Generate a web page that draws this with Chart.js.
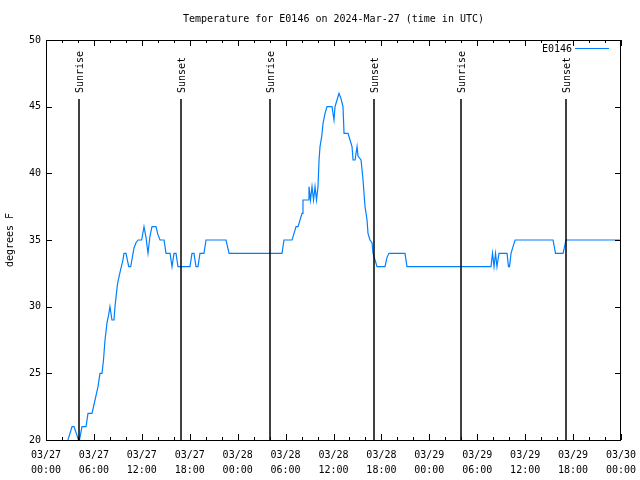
<!DOCTYPE html>
<html>
<head>
<meta charset="utf-8">
<script src="https://cdn.jsdelivr.net/npm/chart.js@4/dist/chart.umd.min.js"></script>
<style>
  html, body { margin: 0; padding: 0; background: #fff; }
  #wrap { width: 640px; height: 480px; }
</style>
</head>
<body>
<div id="wrap"><canvas id="temp"></canvas></div>
<script>
'use strict';

const TITLE = 'Temperature for E0146 on 2024-Mar-27 (time in UTC)'
const SERIES = 'E0146'
const LINE = '#0080ff'
const FONT = 'DejaVu Sans Mono'

// hours since 03/27 00:00 UTC
const hours = [
  2.75, 3.26, 3.51, 4.07, 4.19, 4.51, 5.01, 5.26, 5.76, 6.14,
  6.51, 6.76, 7.01, 7.20, 7.39, 7.64, 7.85, 8.01, 8.26, 8.51,
  8.64, 8.93, 9.05, 9.35, 9.60, 9.77, 10.02, 10.36, 10.61, 11.02,
  11.27, 11.52, 11.98, 12.27, 12.52, 12.77, 13.02, 13.27, 13.77, 14.02,
  14.28, 14.78, 15.03, 15.53, 15.78, 16.03, 16.28, 16.53, 18.03, 18.28,
  18.53, 18.78, 19.03, 19.28, 19.78, 20.04, 22.54, 22.92, 29.55, 29.80,
  30.81, 31.06, 31.31, 31.56, 31.81, 32.06, 32.18, 32.81, 32.93, 33.12,
  33.31, 33.50, 33.69, 33.87, 34.06, 34.19, 34.31, 34.52, 34.69, 34.94,
  35.19, 35.81, 36.06, 36.19, 36.44, 36.69, 36.94, 37.19, 37.32, 37.82,
  38.07, 38.32, 38.45, 38.70, 38.95, 39.07, 39.45, 39.70, 39.82, 39.95,
  40.20, 40.32, 40.57, 40.82, 40.95, 41.20, 41.45, 42.45, 42.70, 42.95,
  44.95, 45.20, 55.72, 55.91, 56.10, 56.29, 56.47, 56.72, 57.73, 57.91,
  58.04, 58.23, 58.48, 58.73, 63.49, 63.80, 64.74, 65.12, 72.00
]
const temps = [
  20, 21, 21, 20, 20, 21, 21, 22, 22, 23,
  24, 25, 25, 26, 27.5, 28.8, 29.4, 30, 29, 29,
  30, 31.6, 32, 32.8, 33.4, 34, 34, 33, 33, 34.4,
  34.8, 35, 35, 36, 35.2, 34, 35.3, 36, 36, 35.4,
  35, 35, 34, 34, 33, 34, 34, 33, 33, 34,
  34, 33, 33, 34, 34, 35, 35, 34, 34, 35,
  35, 35.5, 36, 36, 36.5, 37, 38, 38, 39, 38,
  39, 38, 39, 38, 39, 41, 42, 42.75, 43.75, 44.5,
  45, 45, 44, 45, 45.5, 46, 45.6, 45, 43, 43,
  42.5, 42, 41, 41, 42, 41.3, 41, 39.5, 38.5, 37.5,
  36.5, 35.5, 35, 34.8, 34, 33.5, 33, 33, 33.7, 34,
  34, 33, 33, 34, 33, 34, 33, 34, 34, 33,
  33, 34, 34.5, 35, 35, 34, 34, 35, 35
]

// sun events, hours since 03/27 00:00 UTC
const eventHours = [4.17, 16.9, 28.05, 41.07, 51.97, 65.12]
const eventNames = ['Sunrise', 'Sunset', 'Sunrise', 'Sunset', 'Sunrise', 'Sunset']

const days = ['03/27', '03/28', '03/29', '03/30']
const yTicks = [20, 25, 30, 35, 40, 45, 50]

function tickLabel(h){
    const d = days[Math.floor(h / 24)]
    const hh = String(h % 24).padStart(2, '0')
    return [d, hh + ':00']
}

// title, box, inward ticks, sun lines and key
const decor = {
    id: 'decor',
    afterDatasetsDraw(chart){
        const ctx = chart.ctx
        const a = chart.chartArea
        const xs = chart.scales.x
        const ys = chart.scales.y
        ctx.save()
        ctx.font = '10px ' + FONT
        ctx.fillStyle = '#000'
        ctx.textAlign = 'center'
        ctx.textBaseline = 'middle'
        ctx.fillText(TITLE, (a.left + a.right) / 2, 19)

        ctx.strokeStyle = '#000'
        ctx.lineWidth = 1
        ctx.beginPath()
        for (let h = 0; h <= 72; h += 2){
            const px = Math.round(xs.getPixelForValue(h)) + 0.5
            const len = h % 6 === 0 ? 6 : 3
            ctx.moveTo(px, a.bottom); ctx.lineTo(px, a.bottom - len)
            ctx.moveTo(px, a.top); ctx.lineTo(px, a.top + len)
        }
        for (const v of yTicks){
            const py = Math.round(ys.getPixelForValue(v)) + 0.5
            ctx.moveTo(a.left, py); ctx.lineTo(a.left + 6, py)
            ctx.moveTo(a.right, py); ctx.lineTo(a.right - 6, py)
        }
        ctx.stroke()
        ctx.strokeRect(Math.round(a.left) + 0.5, Math.round(a.top) + 0.5,
                       Math.round(a.right - a.left) - 1, Math.round(a.bottom - a.top))

        // sunrise / sunset markers, labels read upward from just above the line
        ctx.lineWidth = 1.5
        eventHours.forEach(function (h, i) {
            const px = Math.round(xs.getPixelForValue(h))
            ctx.beginPath()
            ctx.moveTo(px, a.top + 59)
            ctx.lineTo(px, a.bottom)
            ctx.stroke()
            ctx.save()
            ctx.translate(px + 1, a.top + 53)
            ctx.rotate(-Math.PI / 2)
            ctx.textAlign = 'left'
            ctx.textBaseline = 'middle'
            ctx.fillText(eventNames[i], 0, 0)
            ctx.restore()
        })

        // key
        ctx.textAlign = 'right'
        ctx.textBaseline = 'middle'
        ctx.fillText(SERIES, a.right - 49, a.top + 9)
        ctx.strokeStyle = LINE
        ctx.lineWidth = 1
        ctx.beginPath()
        ctx.moveTo(a.right - 46, a.top + 8.5)
        ctx.lineTo(a.right - 12, a.top + 8.5)
        ctx.stroke()
        ctx.restore()
    }
}

const ctx = document.getElementById('temp').getContext('2d')
const chart = new Chart(ctx, {
    type: 'line',
    data: {
        datasets: [{
            label: SERIES,
            data: hours.map(function (h, i) { return {x: h, y: temps[i]} }),
            borderColor: LINE,
            borderWidth: 1.2,
            pointRadius: 0,
            tension: 0,
            fill: false,
        }],
    },
    options: {
        responsive: true,
        maintainAspectRatio: false,
        animation: false,
        layout: { padding: { left: 0, right: 19, top: 40, bottom: 0 } },
        plugins: {
            legend: { display: false },
            tooltip: { enabled: false },
            title: { display: false },
        },
        scales: {
            x: {
                type: 'linear',
                min: 0,
                max: 72,
                grid: { display: false, drawTicks: false },
                border: { display: false },
                ticks: {
                    stepSize: 6,
                    autoSkip: false,
                    maxRotation: 0,
                    padding: 8,
                    color: '#000',
                    font: { family: FONT, size: 10, lineHeight: 1.5 },
                    callback: function (v) { return tickLabel(v) },
                },
                afterFit: function (s) {
                    s.height = 40
                    s.paddingLeft = 0
                    s.paddingRight = 0
                },
            },
            y: {
                min: 20,
                max: 50,
                grid: { display: false, drawTicks: false },
                border: { display: false },
                ticks: {
                    stepSize: 5,
                    padding: 5,
                    color: '#000',
                    font: { family: FONT, size: 10 },
                },
                title: {
                    display: true,
                    text: 'degrees F',
                    color: '#000',
                    font: { family: FONT, size: 10 },
                    padding: { top: 4, bottom: 0 },
                },
                afterFit: function (s) {
                    s.width = 46
                    s.paddingTop = 0
                    s.paddingBottom = 0
                },
            },
        },
    },
    plugins: [decor],
});
</script>
</body>
</html>
